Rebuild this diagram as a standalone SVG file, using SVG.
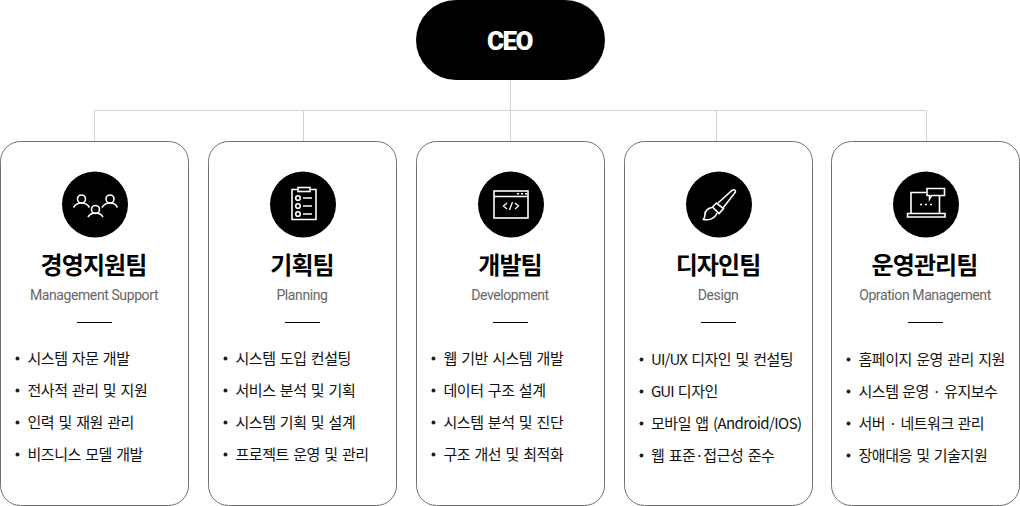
<svg xmlns="http://www.w3.org/2000/svg" width="1020" height="506" viewBox="0 0 1020 506">
<style>
text{font-family:"Noto Sans CJK KR","Noto Sans",sans-serif}
.card{fill:#fff;stroke:#707070;stroke-width:1}
.disc{fill:#000}
.ln{fill:none;stroke:#d2d2d2;stroke-width:1}
.ic{fill:none;stroke:#fff;stroke-width:1.6}
.t{font-size:24px;font-weight:700;fill:#000;text-anchor:middle;letter-spacing:-.9px}
.s{font-family:Roboto,"Liberation Sans",sans-serif;font-size:14px;fill:#666;text-anchor:middle;letter-spacing:-.4px}
.r{stroke:#000;stroke-width:1}
.l{font-size:15px;fill:#111;letter-spacing:-.45px;word-spacing:1.4px}
.b{fill:#222}
</style>
<g id="connectors">
<path class="ln" d="M94.500 141V110.500H926.500V141M303.500 110.500V141M510.500 80V141M716.500 110.500V141"/>
</g>
<g id="ceo">
<rect x="416" y="0" width="189" height="80" rx="40" fill="#000"/>
<text x="509.500" y="50" font-size="26" font-weight="900" fill="#fff" text-anchor="middle" letter-spacing="-1.500" style="font-family:Roboto,sans-serif">CEO</text>
</g>
<g id="team1">
<rect class="card" x="0.500" y="141.500" width="188" height="364" rx="20"/>
<circle class="disc" cx="95" cy="204.500" r="33"/>
<g class="ic">
<circle cx="81.500" cy="199" r="4"/><path d="M73.500 207.500c2-3.500 4.500-4.500 8-4.500s6 1 8 4.500"/>
<circle cx="95.500" cy="209.500" r="4"/><path d="M88 217c2-3.500 4.500-4 7.500-4s5.500 .5 7.500 4"/>
<circle cx="110" cy="199" r="4"/><path d="M102 207.500c2-3.500 4.500-4.500 8-4.500s6 1 7.500 4.500"/>
</g>
<text class="t" x="93.500" y="274">경영지원팀</text>
<text class="s" x="94" y="300">Management Support</text>
<path class="r" d="M77 322.500H112"/>
<circle class="b" cx="17.500" cy="358.500" r="2"/><text class="l" x="27.500" y="364">시스템 자문 개발</text>
<circle class="b" cx="17.500" cy="390.500" r="2"/><text class="l" x="27.500" y="396">전사적 관리 및 지원</text>
<circle class="b" cx="17.500" cy="422.500" r="2"/><text class="l" x="27.500" y="428">인력 및 재원 관리</text>
<circle class="b" cx="17.500" cy="454.500" r="2"/><text class="l" x="27.500" y="460">비즈니스 모델 개발</text>
</g>
<g id="team2">
<rect class="card" x="208.500" y="141.500" width="188" height="364" rx="20"/>
<circle class="disc" cx="303" cy="204.500" r="33"/>
<g class="ic">
<path d="M297.500 189.500H292V219.500H316V189.500H310.500"/><rect x="298" y="187.500" width="12" height="4"/>
<circle cx="298" cy="198" r="2.300"/><circle cx="298" cy="206" r="2.300"/><circle cx="298" cy="214" r="2.300"/>
<path d="M303 198H312M303 206H312M303 214H312"/>
</g>
<text class="t" x="302" y="274">기획팀</text>
<text class="s" x="302" y="300">Planning</text>
<path class="r" d="M285 322.500H320"/>
<circle class="b" cx="225.500" cy="358.500" r="2"/><text class="l" x="235.500" y="364">시스템 도입 컨설팅</text>
<circle class="b" cx="225.500" cy="390.500" r="2"/><text class="l" x="235.500" y="396">서비스 분석 및 기획</text>
<circle class="b" cx="225.500" cy="422.500" r="2"/><text class="l" x="235.500" y="428">시스템 기획 및 설계</text>
<circle class="b" cx="225.500" cy="454.500" r="2"/><text class="l" x="235.500" y="460">프로젝트 운영 및 관리</text>
</g>
<g id="team3">
<rect class="card" x="416.500" y="141.500" width="188" height="364" rx="20"/>
<circle class="disc" cx="511" cy="204.500" r="33"/>
<g class="ic">
<rect x="494" y="191" width="34" height="27"/><path d="M494 196.500H528"/>
<path d="M517 193.800H519M521 193.800H523M525 193.800H527"/>
<path d="M507 203l-3.500 3 3.500 3M515 203l3.500 3-3.500 3M512.500 202l-3 8" stroke-width="1.300"/>
</g>
<text class="t" x="510" y="274">개발팀</text>
<text class="s" x="510" y="300">Development</text>
<path class="r" d="M493 322.500H528"/>
<circle class="b" cx="433.500" cy="358.500" r="2"/><text class="l" x="443.500" y="364">웹 기반 시스템 개발</text>
<circle class="b" cx="433.500" cy="390.500" r="2"/><text class="l" x="443.500" y="396">데이터 구조 설계</text>
<circle class="b" cx="433.500" cy="422.500" r="2"/><text class="l" x="443.500" y="428">시스템 분석 및 진단</text>
<circle class="b" cx="433.500" cy="454.500" r="2"/><text class="l" x="443.500" y="460">구조 개선 및 최적화</text>
</g>
<g id="team4">
<rect class="card" x="624.500" y="141.500" width="188" height="364" rx="20"/>
<circle class="disc" cx="719" cy="204.500" r="33"/>
<g class="ic">
<path d="M718 203L732 190.500Q735.500 188.500 735.500 192L723 208"/>
<path d="M712.500 207L716.500 203L723.500 208.500L719 213.500z"/>
<path d="M712 207.500C708 208 705 211 705 214C705 216 704.500 218 703.500 219.500C708 220.500 715 219 717 213"/>
</g>
<text class="t" x="718" y="274">디자인팀</text>
<text class="s" x="718" y="300">Design</text>
<path class="r" d="M701 322.500H736"/>
<circle class="b" cx="641.500" cy="359.500" r="2"/><text class="l" x="651" y="365"><tspan letter-spacing="-.9">UI/UX</tspan> 디자인 및 컨설팅</text>
<circle class="b" cx="641.500" cy="391.500" r="2"/><text class="l" x="651" y="397"><tspan letter-spacing="-1">GUI</tspan> 디자인</text>
<circle class="b" cx="641.500" cy="423.500" r="2"/><text class="l" x="651" y="429">모바일 앱 <tspan letter-spacing="-.6">(Android/IOS)</tspan></text>
<circle class="b" cx="641.500" cy="455.500" r="2"/><text class="l" x="651" y="461">웹 표준·접근성 준수</text>
</g>
<g id="team5">
<rect class="card" x="831.500" y="141.500" width="188" height="364" rx="20"/>
<circle class="disc" cx="926" cy="204.500" r="33"/>
<g class="ic">
<path d="M926 192.500H911V213.500M939.500 195.500V213.500"/>
<path d="M907.500 213.500H945V217H907.500z"/>
<path d="M927 188.500H944.500V195.500H931.500L929.500 199V195.500H927z"/>
<path d="M920 204.500H922M925 204.500H927M930 204.500H932"/>
</g>
<text class="t" x="924.500" y="274">운영관리팀</text>
<text class="s" x="925" y="300">Opration Management</text>
<path class="r" d="M908 322.500H943"/>
<circle class="b" cx="848.500" cy="359.500" r="2"/><text class="l" x="858.500" y="365">홈페이지 운영 관리 지원</text>
<circle class="b" cx="848.500" cy="391.500" r="2"/><text class="l" x="858.500" y="397" word-spacing=".7" style="word-spacing:.7px">시스템 운영 · 유지보수</text>
<circle class="b" cx="848.500" cy="423.500" r="2"/><text class="l" x="858.500" y="429" style="word-spacing:.7px">서버 · 네트워크 관리</text>
<circle class="b" cx="848.500" cy="455.500" r="2"/><text class="l" x="858.500" y="461">장애대응 및 기술지원</text>
</g>
</svg>
